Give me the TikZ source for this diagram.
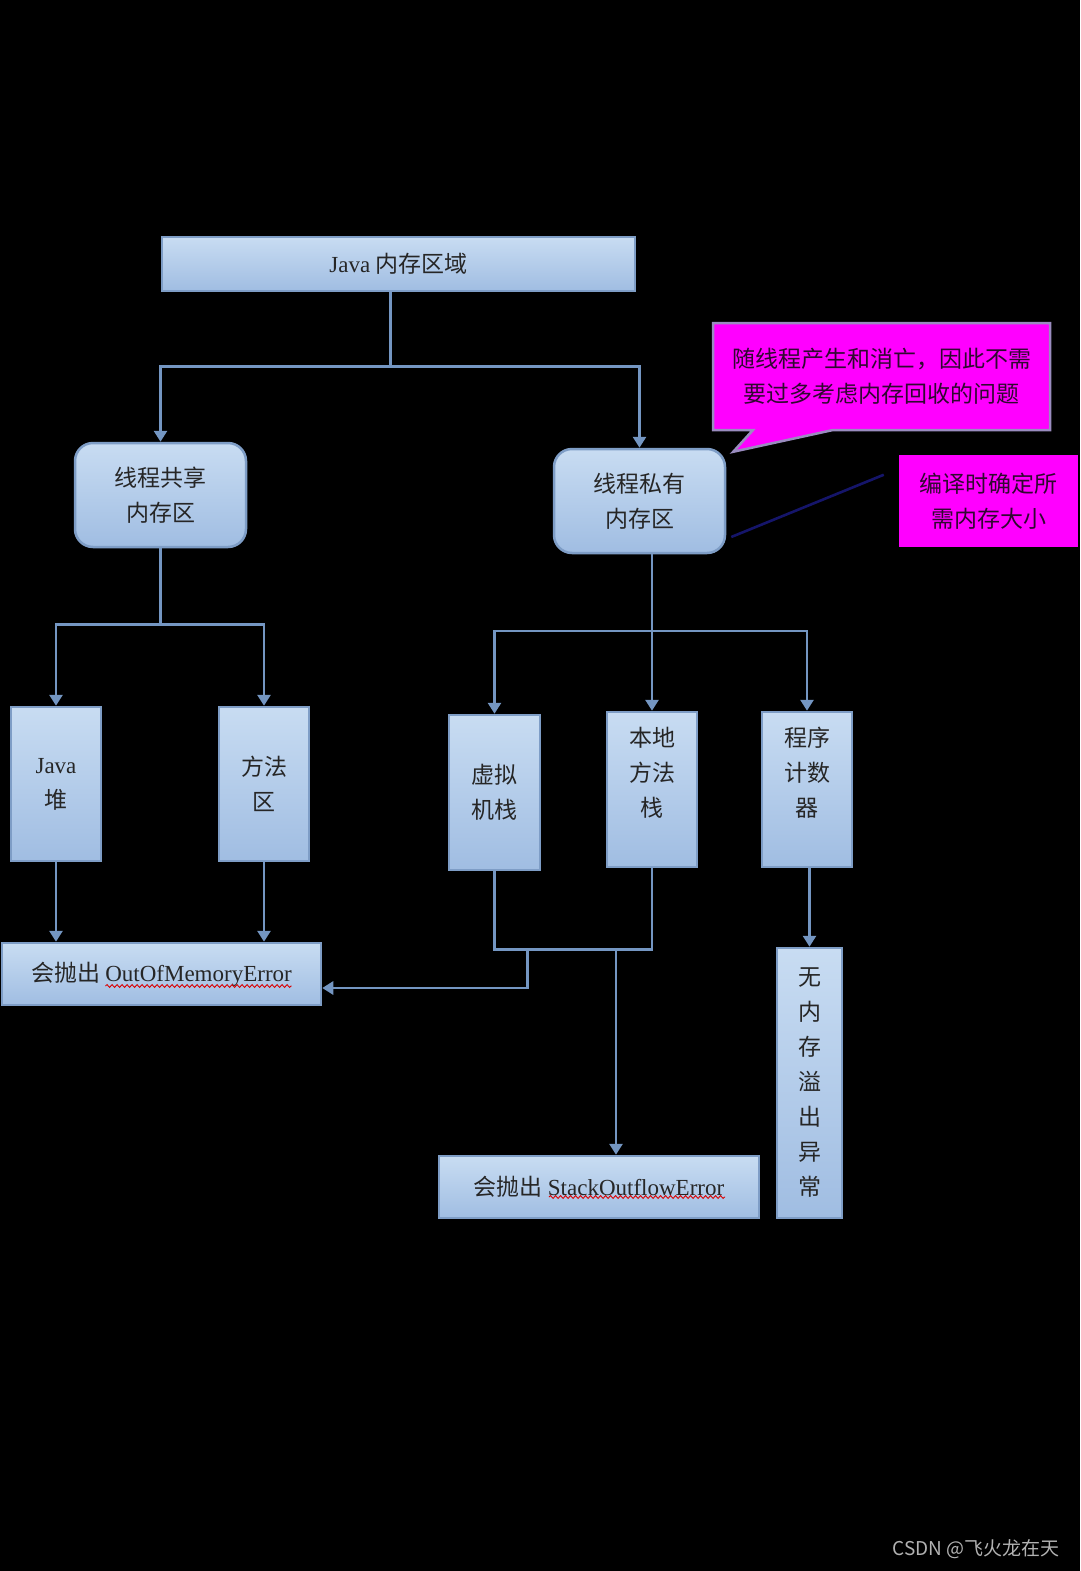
\documentclass[tikz,border=0pt]{standalone}
\usepackage{fontspec}
\setmainfont{Liberation Serif}
\newfontfamily\cjk{Noto Sans CJK SC}
\usetikzlibrary{arrows.meta,shapes.callouts,decorations.pathmorphing}
\newcommand{\lat}[1]{{\rmfamily #1}}
\definecolor{boxtop}{HTML}{C8DCF2}
\definecolor{boxbot}{HTML}{A0BDE2}
\definecolor{boxline}{HTML}{7E9DC6}
\definecolor{arrowblue}{HTML}{7496C2}
\definecolor{notefill}{HTML}{FF00FF}
\definecolor{noteline}{HTML}{9A8CC0}
\definecolor{notetext}{HTML}{300830}
\definecolor{navyline}{HTML}{15156A}
\tikzset{membox/.style={draw=boxline, line width=2.5pt, top color=boxtop, bottom color=boxbot, text=black!85, align=center, inner sep=0pt, font=\cjk\fontsize{23}{35}\selectfont},
  areabox/.style={membox, rounded corners=18pt},
  notebox/.style={draw=noteline, fill=notefill, line width=2.5pt, text=notetext, align=center, inner sep=0pt, font=\cjk\fontsize{23}{35}\selectfont},
  memline/.style={draw=arrowblue, line width=2.8pt},
  memarrow/.style={memline, -{Triangle[width=13pt,length=11pt]}},
  squiggle/.style={draw=red!85!black, line width=0.9pt, decorate, decoration={snake, amplitude=1.4pt, segment length=5pt}}}

\begin{document}
\begin{tikzpicture}[x=1pt, y=-1pt]
\fill[black] (0,0) rectangle (1080,1571);
\node[membox, minimum width=473pt, minimum height=54pt] (mem) at (398.5,264) {\lat{Java} 内存区域};
\node[areabox, minimum width=171pt, minimum height=104pt] (shared) at (160.5,495) {线程共享\\内存区};
\node[areabox, minimum width=171pt, minimum height=104pt] (private) at (639.5,501) {线程私有\\内存区};
\node[membox, minimum width=90pt, minimum height=154pt] (heap) at (56,784) {\lat{Java}\\堆};
\node[membox, minimum width=90pt, minimum height=154pt] (method) at (264,784) {方法\\区};
\node[membox, minimum width=319pt, minimum height=62pt] (oom) at (161.5,974) {会抛出 \lat{OutOfMemoryError}};
\node[membox, minimum width=91pt, minimum height=155pt] (vmstack) at (494.5,792.5) {虚拟\\机栈};
\node[membox, minimum width=90pt, minimum height=155pt] (native) at (652,789.5) {本地\\方法\\栈\\\mbox{}};
\node[membox, minimum width=90pt, minimum height=155pt] (counter) at (807,789.5) {程序\\计数\\器\\\mbox{}};
\node[membox, minimum width=320pt, minimum height=62pt] (soe) at (599,1187) {会抛出 \lat{StackOutflowError}};
\node[membox, minimum width=65pt, minimum height=270pt] (nooom) at (809.5,1083) {无\\内\\存\\溢\\出\\异\\常};
\node[notebox, rectangle callout, callout absolute pointer={([xshift=7pt,yshift=-4pt]private.north east)}, callout pointer width=80pt, minimum width=337pt, minimum height=107pt] (note1) at (881.5,376.5) {随线程产生和消亡，因此不需\\要过多考虑内存回收的问题};
\node[notebox, draw=none, minimum width=179pt, minimum height=92pt] (note2) at (988.5,501) {编译时确定所\\需内存大小};
\node[text=black!30, anchor=east, font=\cjk\fontsize{19}{19}\selectfont] (credit) at (1063,1549) {CSDN @飞火龙在天};
\draw[memline] ([xshift=-8pt]mem.south) -- ++(0,74) coordinate (split1);
\draw[memarrow] (split1) -| (shared);
\draw[memarrow] (split1) -| (private);
\draw[memline] (shared.south) -- ++(0,76) coordinate (split2);
\draw[memarrow] (split2) -| (heap);
\draw[memarrow] (split2) -| (method);
\coordinate (split3) at (native.north |- 0,631);
\draw[memarrow] (native.north |- private.south) -- (native);
\draw[memarrow] (split3) -| (vmstack);
\draw[memarrow] (split3) -| (counter);
\draw[memarrow] (heap) -- (heap |- oom.north);
\draw[memarrow] (method) -- (method |- oom.north);
\draw[memline] (vmstack.south) -- ++(0,78) coordinate (join1) -| (native.south);
\coordinate (tooom) at ([xshift=33pt]join1);
\coordinate (tosoe) at ([xshift=121.5pt]join1);
\draw[memarrow] (tooom) |- ([yshift=-14pt]oom.east);
\draw[memarrow] (tosoe) -- (tosoe |- soe.north);
\draw[memarrow] (counter.south -| nooom) -- (nooom);
\draw[navyline, line width=2.6pt] ([xshift=-14pt,yshift=-21pt]note2.north west) -- ([xshift=5pt,yshift=-36pt]private.east);
\draw[squiggle] ([xshift=-56pt,yshift=-12pt]oom.center) -- ++(186,0);
\draw[squiggle] ([xshift=-50pt,yshift=-10pt]soe.center) -- ++(176,0);
\end{tikzpicture}
\end{document}
